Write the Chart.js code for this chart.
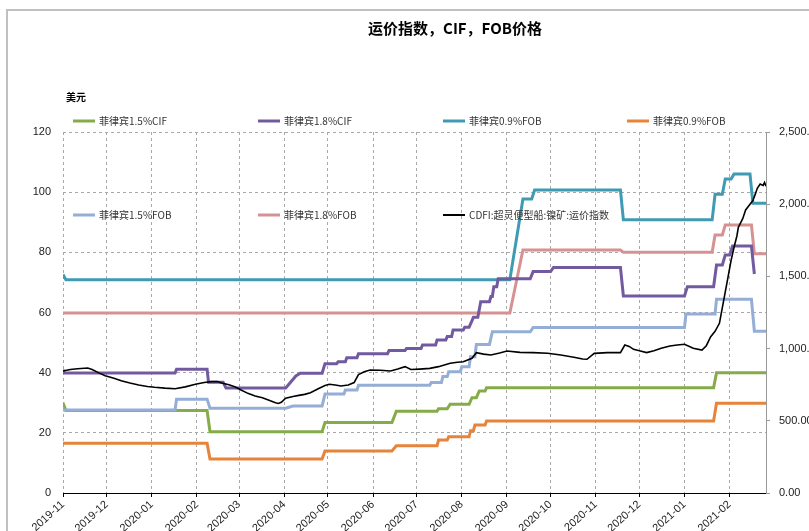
<!DOCTYPE html>
<html>
<head>
<meta charset="utf-8">
<script src="https://cdn.jsdelivr.net/npm/chart.js@4/dist/chart.umd.min.js"></script>
<style>
  html, body { margin: 0; padding: 0; background: #fff; }
  #wrap { position: relative; width: 809px; height: 531px; overflow: hidden; }
</style>
</head>
<body>
<div id="wrap"><canvas id="chart" width="809" height="531"></canvas></div>
<script>
// x axis: month ticks
const tickLabels = ['2019-11', '2019-12', '2020-01', '2020-02', '2020-03', '2020-04', '2020-05', '2020-06',
  '2020-07', '2020-08', '2020-09', '2020-10', '2020-11', '2020-12', '2021-01', '2021-02']
const xStart = '2019-11-01'
const xEnd = '2021-02-26'

const seriesLabels = ['菲律宾1.5%CIF', '菲律宾1.8%CIF', '菲律宾0.9%FOB', '菲律宾0.9%FOB',
  '菲律宾1.5%FOB', '菲律宾1.8%FOB', 'CDFI:超灵便型船:镍矿:运价指数']

// 菲律宾1.5%CIF
const cif15Dates = ['2019-11-01', '2019-11-03', '2020-02-08', '2020-02-10', '2020-04-27', '2020-04-29',
  '2020-06-14', '2020-06-17', '2020-07-15', '2020-07-16', '2020-07-22', '2020-07-24', '2020-08-06',
  '2020-08-08', '2020-08-11', '2020-08-13', '2020-08-17', '2020-08-18', '2021-01-21', '2021-01-23', '2021-02-26']
const cif15Values = [30, 27.4, 27.4, 20.4, 20.4, 23.4, 23.4, 27.2, 27.2, 28.0, 28.0, 29.5, 29.5,
  31.7, 31.7, 33.9, 33.9, 35.0, 35.0, 40.0, 40.0]

// 菲律宾1.8%CIF
const cif18Dates = ['2019-11-01', '2019-11-02', '2020-01-17', '2020-01-18', '2020-02-08', '2020-02-09',
  '2020-02-19', '2020-02-21', '2020-04-02', '2020-04-09', '2020-04-12', '2020-04-27', '2020-04-29',
  '2020-05-07', '2020-05-08', '2020-05-13', '2020-05-14', '2020-05-21', '2020-05-22', '2020-06-11',
  '2020-06-12', '2020-06-23', '2020-06-24', '2020-07-04', '2020-07-05', '2020-07-14', '2020-07-15',
  '2020-07-21', '2020-07-22', '2020-07-25', '2020-07-26', '2020-08-02', '2020-08-03', '2020-08-06',
  '2020-08-09', '2020-08-12', '2020-08-14', '2020-08-20', '2020-08-21', '2020-08-22', '2020-08-23',
  '2020-08-25', '2020-08-26', '2020-09-17', '2020-09-19', '2020-10-01', '2020-10-03', '2020-11-18',
  '2020-11-20', '2021-01-01', '2021-01-03', '2021-01-21', '2021-01-23', '2021-01-27', '2021-01-29',
  '2021-02-01', '2021-02-03', '2021-02-16', '2021-02-18']
const cif18Values = [41.0, 39.9, 39.9, 41.1, 41.1, 36.8, 36.8, 34.9, 34.9, 38.9, 39.8, 39.8, 43.0,
  43.0, 43.6, 43.6, 45.0, 45.0, 46.3, 46.3, 47.4, 47.4, 48.0, 48.0, 49.2, 49.2, 50.9, 50.9, 52.0,
  52.0, 54.2, 54.2, 55.1, 55.1, 58.4, 58.4, 63.6, 63.6, 65.3, 65.3, 68.6, 68.6, 71.2, 71.2, 73.6,
  73.6, 75.0, 75.0, 65.5, 65.5, 68.6, 68.6, 75.8, 75.8, 79.1, 79.1, 82.1, 82.1, 72.8]

// 菲律宾0.9%FOB (teal)
const fob09aDates = ['2019-11-01', '2019-11-03', '2020-09-03', '2020-09-12', '2020-09-18', '2020-09-20',
  '2020-11-18', '2020-11-20', '2021-01-20', '2021-01-22', '2021-01-27', '2021-01-29', '2021-02-02',
  '2021-02-04', '2021-02-15', '2021-02-17', '2021-02-26']
const fob09aValues = [72.6, 70.9, 70.9, 97.7, 97.7, 100.7, 100.7, 90.8, 90.8, 99.3, 99.3, 104.4,
  104.4, 106.0, 106.0, 96.3, 96.3]

// 菲律宾0.9%FOB (orange)
const fob09bDates = ['2019-11-01', '2020-02-08', '2020-02-10', '2020-04-27', '2020-04-29', '2020-06-14',
  '2020-06-17', '2020-07-15', '2020-07-16', '2020-07-22', '2020-07-23', '2020-08-06', '2020-08-07',
  '2020-08-09', '2020-08-10', '2020-08-17', '2020-08-18', '2021-01-21', '2021-01-23', '2021-02-26']
const fob09bValues = [16.5, 16.5, 11.3, 11.3, 14.0, 14.0, 15.7, 15.7, 17.6, 17.6, 18.7, 18.7, 20.7,
  20.7, 22.6, 22.6, 23.9, 23.9, 29.8, 29.8]

// 菲律宾1.5%FOB
const fob15Dates = ['2019-11-01', '2020-01-17', '2020-01-18', '2020-02-08', '2020-02-10', '2020-04-02',
  '2020-04-07', '2020-04-27', '2020-04-29', '2020-05-12', '2020-05-13', '2020-05-21', '2020-05-22',
  '2020-07-10', '2020-07-11', '2020-07-18', '2020-07-19', '2020-07-22', '2020-07-23', '2020-07-31',
  '2020-08-01', '2020-08-06', '2020-08-07', '2020-08-10', '2020-08-11', '2020-08-20', '2020-08-22',
  '2020-09-17', '2020-09-19', '2021-01-01', '2021-01-02', '2021-01-22', '2021-01-23', '2021-02-16',
  '2021-02-18', '2021-02-26']
const fob15Values = [27.6, 27.6, 31.2, 31.2, 28.2, 28.2, 28.9, 28.9, 32.9, 32.9, 34.2, 34.2, 35.8,
  35.8, 36.7, 36.7, 38.7, 38.7, 40.3, 40.3, 42.0, 42.0, 45.3, 45.3, 49.4, 49.4, 53.6, 53.6, 55.0,
  55.0, 59.5, 59.5, 64.4, 64.4, 53.8, 53.8]

// 菲律宾1.8%FOB
const fob18Dates = ['2019-11-01', '2020-09-03', '2020-09-12', '2020-11-18', '2020-11-20', '2021-01-20',
  '2021-01-22', '2021-01-27', '2021-01-29', '2021-02-16', '2021-02-18', '2021-02-26']
const fob18Values = [59.8, 59.8, 80.8, 80.8, 80.0, 80.0, 85.8, 85.8, 89.1, 89.1, 79.5, 79.5]

// CDFI:超灵便型船:镍矿:运价指数 (right axis)
const cdfiDates = ['2019-11-01', '2019-11-06', '2019-11-11', '2019-11-18', '2019-11-21', '2019-11-26',
  '2019-11-30', '2019-12-06', '2019-12-11', '2019-12-17', '2019-12-23', '2019-12-29', '2020-01-03',
  '2020-01-10', '2020-01-17', '2020-01-24', '2020-01-31', '2020-02-06', '2020-02-11', '2020-02-15',
  '2020-02-18', '2020-02-23', '2020-02-27', '2020-03-02', '2020-03-07', '2020-03-12', '2020-03-17',
  '2020-03-22', '2020-03-26', '2020-03-28', '2020-03-30', '2020-04-02', '2020-04-07', '2020-04-11',
  '2020-04-15', '2020-04-19', '2020-04-24', '2020-04-29', '2020-05-02', '2020-05-06', '2020-05-10',
  '2020-05-15', '2020-05-19', '2020-05-22', '2020-05-26', '2020-05-30', '2020-06-06', '2020-06-13',
  '2020-06-18', '2020-06-23', '2020-06-27', '2020-07-03', '2020-07-10', '2020-07-16', '2020-07-24',
  '2020-07-29', '2020-08-02', '2020-08-08', '2020-08-11', '2020-08-16', '2020-08-21', '2020-08-27',
  '2020-09-01', '2020-09-10', '2020-09-19', '2020-09-29', '2020-10-08', '2020-10-17', '2020-10-23',
  '2020-10-26', '2020-10-31', '2020-11-09', '2020-11-18', '2020-11-21', '2020-11-24', '2020-11-27',
  '2020-12-01', '2020-12-06', '2020-12-11', '2020-12-16', '2020-12-22', '2020-12-27', '2021-01-01',
  '2021-01-07', '2021-01-13', '2021-01-16', '2021-01-19', '2021-01-22', '2021-01-25', '2021-01-28',
  '2021-01-31', '2021-02-02', '2021-02-04', '2021-02-06', '2021-02-07', '2021-02-10', '2021-02-12',
  '2021-02-15', '2021-02-17', '2021-02-19', '2021-02-20', '2021-02-22', '2021-02-24', '2021-02-25',
  '2021-02-26']
const cdfiValues = [845, 855, 860, 866, 855, 830, 812, 795, 778, 762, 748, 738, 732, 726, 722, 735,
  753, 765, 771, 772, 762, 750, 736, 715, 690, 672, 660, 640, 625, 620, 628, 656, 668, 676, 683, 695,
  720, 745, 753, 748, 741, 748, 765, 820, 840, 852, 850, 845, 858, 875, 855, 858, 863, 875, 898, 905,
  909, 933, 972, 962, 956, 970, 983, 974, 972, 968, 956, 940, 928, 926, 967, 972, 972, 1025, 1015,
  995, 985, 972, 985, 1002, 1018, 1025, 1030, 1002, 990, 1020, 1082, 1120, 1175, 1337, 1500, 1610,
  1700, 1780, 1840, 1900, 1960, 2000, 2025, 2080, 2110, 2140, 2130, 2150, 2125]

const DAY = 86400000
function dayOf(s) {
  const [y, m, d] = s.split('-').map(Number)
  const [y0, m0, d0] = xStart.split('-').map(Number)
  return Math.round((Date.UTC(y, m - 1, d) - Date.UTC(y0, m0 - 1, d0)) / DAY)
}
function toPoints(dates, values) {
  return dates.map((d, i) => ({ x: dayOf(d), y: values[i] }))
}
const tickDays = tickLabels.map(t => dayOf(t + '-01'))

function line(label, dates, values, color, width, axis, order) {
  return {
    label: label,
    data: toPoints(dates, values),
    borderColor: color,
    backgroundColor: color,
    borderWidth: width,
    pointRadius: 0,
    tension: 0,
    fill: false,
    yAxisID: axis,
    order: order,
  }
}

const datasets = [
  line(seriesLabels[0], cif15Dates, cif15Values, '#86ab49', 3, 'y', 6),
  line(seriesLabels[1], cif18Dates, cif18Values, '#725aa0', 3, 'y', 2),
  line(seriesLabels[2], fob09aDates, fob09aValues, '#3f9bb3', 3, 'y', 3),
  line(seriesLabels[3], fob09bDates, fob09bValues, '#e5843a', 3, 'y', 5),
  line(seriesLabels[4], fob15Dates, fob15Values, '#94aed6', 3, 'y', 4),
  line(seriesLabels[5], fob18Dates, fob18Values, '#d69292', 3, 'y', 4),
  line(seriesLabels[6], cdfiDates, cdfiValues, '#000000', 1.6, 'y1', 0),
]

// title, unit, legend and frame drawn on the canvas
const decorations = {
  id: 'decorations',
  afterDraw(chart) {
    const ctx = chart.ctx
    ctx.save()
    ctx.strokeStyle = '#c0c0c0'
    ctx.lineWidth = 2
    ctx.beginPath()
    ctx.moveTo(7, 540)
    ctx.lineTo(7, 10)
    ctx.lineTo(820, 10)
    ctx.stroke()

    ctx.fillStyle = '#000'
    ctx.textBaseline = 'middle'
    ctx.textAlign = 'center'
    ctx.font = 'bold 15px "Noto Sans CJK SC"'
    ctx.fillText('运价指数，CIF，FOB价格', 455, 28)

    ctx.textAlign = 'left'
    ctx.font = 'bold 10px "Noto Sans CJK SC"'
    ctx.fillText('美元', 66, 97)

    const slots = [[73, 121], [258, 121], [443, 121], [627, 121], [73, 215], [258, 215], [443, 215]]
    ctx.font = '10px "Noto Sans CJK SC"'
    chart.data.datasets.forEach((ds, i) => {
      const [x, y] = slots[i]
      ctx.strokeStyle = ds.borderColor
      ctx.lineWidth = ds.yAxisID === 'y1' ? 2 : 3
      ctx.beginPath()
      ctx.moveTo(x, y)
      ctx.lineTo(x + 22, y)
      ctx.stroke()
      ctx.fillStyle = '#333'
      ctx.fillText(ds.label, x + 26, y)
    })
    ctx.restore()
  }
}

Chart.defaults.font.family = '"Liberation Sans", Arial, sans-serif'
Chart.defaults.font.size = 11
Chart.defaults.color = '#333'

new Chart(document.getElementById('chart').getContext('2d'), {
  type: 'line',
  data: { datasets: datasets },
  plugins: [decorations],
  options: {
    responsive: false,
    animation: false,
    parsing: true,
    layout: { padding: { top: 132, left: 0, right: 0, bottom: 0 } },
    plugins: {
      legend: { display: false },
      title: { display: false },
      tooltip: { enabled: false },
    },
    scales: {
      x: {
        type: 'linear',
        min: 0,
        max: dayOf(xEnd),
        afterBuildTicks: axis => { axis.ticks = tickDays.map(v => ({ value: v })) },
        afterFit: scale => { scale.height = 38 },
        ticks: {
          autoSkip: false,
          minRotation: 42,
          maxRotation: 42,
          padding: 1,
          color: '#222',
          callback: value => tickLabels[tickDays.indexOf(value)],
        },
        grid: {
          color: '#a8a8a8',
          tickColor: '#000',
          tickLength: 4,
          tickBorderDash: [],
        },
        border: { display: true, color: '#000', width: 1, dash: [3, 3] },
      },
      y: {
        position: 'left',
        min: 0,
        max: 120,
        afterFit: scale => { scale.width = 63 },
        ticks: { stepSize: 20, padding: 12, color: '#222' },
        grid: { color: '#a8a8a8', drawTicks: false },
        border: { display: false, dash: [3, 3] },
      },
      y1: {
        position: 'right',
        min: 0,
        max: 2500,
        afterFit: scale => { scale.width = 43 },
        ticks: {
          stepSize: 500,
          padding: 9,
          color: '#222',
          callback: value => value.toLocaleString('en-US', { minimumFractionDigits: 2, maximumFractionDigits: 2 }),
        },
        grid: { drawOnChartArea: false, tickLength: 4, tickColor: '#999' },
        border: { display: true, color: '#999', width: 1 },
      },
    },
  },
})
</script>
</body>
</html>
